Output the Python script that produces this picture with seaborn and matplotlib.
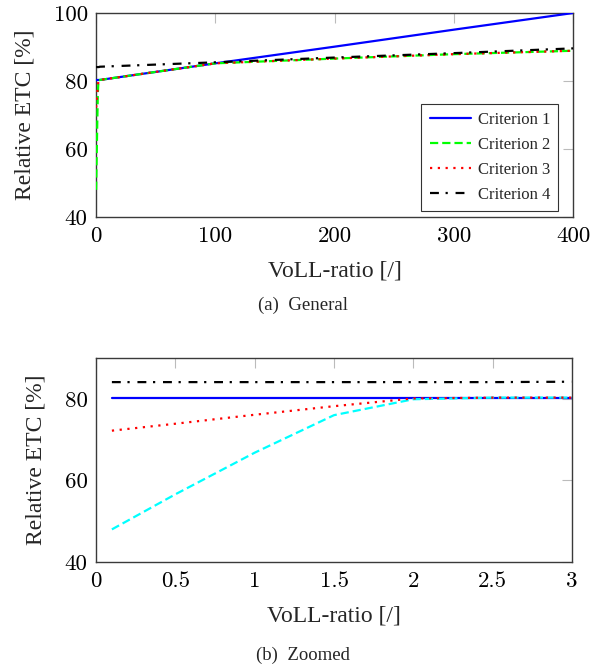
import matplotlib
matplotlib.use('Agg')
import matplotlib.pyplot as plt
import seaborn as sns
import pandas as pd

# --- data ---
voll = [0.1, 0.5, 1.0, 1.5, 2.0, 2.5, 3.0, 100, 200, 300, 400]
crit1 = [80.3, 80.3, 80.3, 80.3, 80.3, 80.3, 80.3, 85.2, 90.1, 95.1, 100.0]
crit2 = [48.0, 56.6, 66.8, 76.0, 79.9, 80.3, 80.3, 85.2, 86.6, 87.9, 88.9]
crit3 = [72.2, 73.9, 76.1, 78.2, 80.1, 80.3, 80.3, 85.2, 86.6, 87.9, 88.9]
crit4 = [84.1, 84.1, 84.1, 84.1, 84.1, 84.1, 84.2, 85.5, 86.9, 88.2, 89.6]

labels = ['Criterion 1', 'Criterion 2', 'Criterion 3', 'Criterion 4']
xticks_top = [0, 100, 200, 300, 400]
xticks_zoom = [0, 0.5, 1, 1.5, 2, 2.5, 3]
yticks = [40, 60, 80, 100]

df = pd.DataFrame({'voll': voll, 'Criterion 1': crit1, 'Criterion 2': crit2,
                   'Criterion 3': crit3, 'Criterion 4': crit4})

sns.set_style('white')
plt.rcParams['font.family'] = ['Liberation Serif', 'DejaVu Serif']

dashdot = (0, (4, 3, 1, 3.5))
styles_top = {
    'Criterion 1': dict(color='#0000ff', linestyle='-'),
    'Criterion 2': dict(color='#00ff00', linestyle=(0, (3.7, 1.8))),
    'Criterion 3': dict(color='#ff0000', linestyle=(0, (1, 2.5))),
    'Criterion 4': dict(color='black', linestyle=dashdot),
}
styles_zoom = dict(styles_top)
styles_zoom['Criterion 2'] = dict(color='#00ffff', linestyle=(0, (3.7, 1.8)))

fig = plt.figure(figsize=(6.02, 6.71), dpi=100)
ax1 = fig.add_axes([0.1595, 0.6766, 0.7924, 0.304])
ax2 = fig.add_axes([0.1595, 0.1624, 0.7907, 0.304])

tick_font = dict(family='cmr10', size=16.5)


def style_axes(ax, xticks, yticks, xlim, ylim, ylab_x):
    ax.set_xlim(*xlim)
    ax.set_ylim(*ylim)
    ax.set_xticks(xticks)
    ax.set_yticks(yticks)
    ax.set_xticklabels([f'{t:g}' for t in xticks], fontdict=tick_font)
    ax.set_yticklabels([f'{t:g}' for t in yticks], fontdict=tick_font)
    ax.tick_params(direction='in', length=7, width=0.8, color='#bbbbbb',
                   top=True, right=True, labelcolor='black')
    ax.tick_params(axis='x', pad=7)
    ax.tick_params(axis='y', pad=6)
    for sp in ax.spines.values():
        sp.set_color('#3a3a3a')
        sp.set_linewidth(1.0)
    ax.set_xlabel('VoLL-ratio [/]', fontsize=17, labelpad=10)
    ax.set_ylabel('Relative ETC [%]', fontsize=17)
    ax.yaxis.set_label_coords(ylab_x, 0.5)


# (a) General
for name in labels:
    sns.lineplot(data=df, x='voll', y=name, ax=ax1, label=name, lw=1.6,
                 errorbar=None, zorder=3, **styles_top[name])
style_axes(ax1, xticks_top, yticks, (0, 400), (40, 100), -0.126)
leg = ax1.legend(loc='lower right', bbox_to_anchor=(0.969, 0.029), fontsize=12,
                 frameon=True, fancybox=False, handlelength=2.5,
                 borderpad=0.5, labelspacing=0.53, handletextpad=0.38,
                 borderaxespad=0)
leg.get_frame().set_edgecolor('black')
leg.get_frame().set_linewidth(0.8)
leg.set_zorder(5)

# (b) Zoomed
zoom = df[df['voll'] <= 3]
for name in labels:
    sns.lineplot(data=zoom, x='voll', y=name, ax=ax2, lw=1.6,
                 errorbar=None, legend=False, zorder=3, **styles_zoom[name])
style_axes(ax2, xticks_zoom, [40, 60, 80], (0, 3), (40, 90), -0.103)

fig.text(0.503, 1 - 305 / 671, '(a)  General', ha='center', va='center', fontsize=13.5)
fig.text(0.503, 1 - 655 / 671, '(b)  Zoomed', ha='center', va='center', fontsize=13.5)

fig.savefig('out.png', dpi=100)
